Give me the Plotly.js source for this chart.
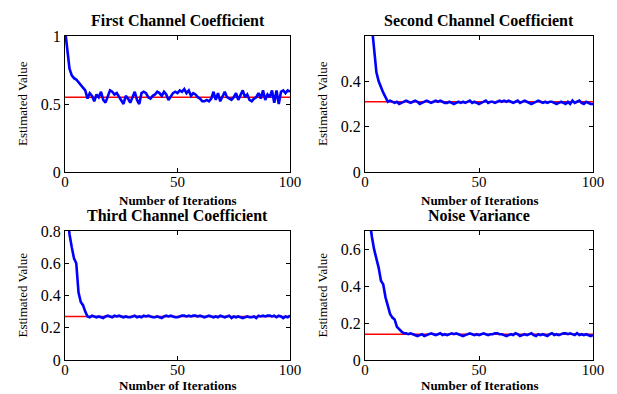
<!DOCTYPE html>
<html>
<head>
<meta charset="utf-8">
<script src="https://cdn.plot.ly/plotly-3.0.1.min.js"></script>
<style>html,body{margin:0;padding:0;background:#fff;}#chart{width:617px;height:394px;}</style>
</head>
<body>
<div id="chart"></div>
<script>
const iterations = Array.from({length: 101}, (_, i) => i);

const titles = ["First Channel Coefficient", "Second Channel Coefficient", "Third Channel Coefficient", "Noise Variance"];
const xLabel = "Number of Iterations";
const yLabel = "Estimated Value";

const trueValues = [0.55, 0.31, 0.27, 0.14];

const est1 = [1.05,0.88,0.76,0.71,0.69,0.68,0.66,0.64,0.62,0.60,0.54,0.58,0.56,0.52,0.57,0.55,0.59,0.53,0.51,0.56,
0.60,0.59,0.57,0.58,0.55,0.52,0.50,0.56,0.54,0.51,0.55,0.59,0.53,0.50,0.58,0.59,0.58,0.55,0.54,0.56,
0.57,0.59,0.58,0.56,0.59,0.57,0.53,0.56,0.58,0.59,0.58,0.60,0.59,0.61,0.58,0.60,0.56,0.58,0.57,0.55,
0.54,0.52,0.52,0.53,0.52,0.54,0.59,0.53,0.58,0.52,0.56,0.59,0.55,0.54,0.53,0.55,0.58,0.53,0.56,0.60,
0.55,0.57,0.53,0.52,0.54,0.55,0.58,0.54,0.60,0.53,0.57,0.55,0.60,0.51,0.60,0.50,0.59,0.60,0.58,0.60,0.59];

const est2 = [0.95,0.85,0.72,0.62,0.52,0.44,0.40,0.37,0.35,0.33,0.31,0.315,0.31,0.305,0.31,0.30,0.305,0.31,0.315,0.31,
0.305,0.31,0.315,0.31,0.30,0.305,0.31,0.315,0.31,0.305,0.31,0.315,0.31,0.315,0.31,0.305,0.305,0.31,0.305,0.30,
0.305,0.31,0.305,0.31,0.305,0.31,0.315,0.305,0.31,0.305,0.30,0.305,0.31,0.315,0.305,0.31,0.31,0.305,0.31,0.315,
0.31,0.315,0.31,0.315,0.31,0.305,0.31,0.315,0.305,0.31,0.315,0.31,0.305,0.30,0.305,0.31,0.315,0.31,0.305,0.31,
0.305,0.31,0.31,0.305,0.30,0.305,0.31,0.305,0.30,0.31,0.30,0.315,0.305,0.31,0.315,0.305,0.30,0.31,0.305,0.30,0.30];

const est3 = [1.10,0.92,0.78,0.70,0.63,0.60,0.42,0.36,0.34,0.30,0.27,0.265,0.275,0.27,0.265,0.27,0.265,0.26,0.27,0.275,
0.27,0.265,0.275,0.27,0.275,0.27,0.265,0.27,0.265,0.265,0.27,0.275,0.265,0.27,0.265,0.275,0.27,0.275,0.27,0.265,
0.265,0.27,0.265,0.26,0.27,0.275,0.27,0.275,0.27,0.265,0.265,0.27,0.275,0.275,0.27,0.275,0.27,0.275,0.275,0.27,
0.275,0.27,0.265,0.27,0.275,0.27,0.265,0.27,0.265,0.275,0.27,0.265,0.27,0.275,0.26,0.27,0.265,0.27,0.265,0.26,
0.265,0.27,0.265,0.265,0.27,0.26,0.275,0.27,0.275,0.27,0.275,0.275,0.27,0.275,0.265,0.275,0.27,0.26,0.27,0.265,0.275];

const est4 = [0.95,0.85,0.75,0.67,0.60,0.55,0.50,0.43,0.41,0.34,0.29,0.25,0.23,0.22,0.18,0.165,0.155,0.145,0.145,0.14,
0.145,0.14,0.135,0.13,0.135,0.14,0.13,0.135,0.14,0.145,0.14,0.135,0.14,0.145,0.135,0.14,0.135,0.14,0.145,0.14,
0.145,0.14,0.135,0.13,0.135,0.14,0.145,0.14,0.135,0.14,0.135,0.14,0.145,0.14,0.135,0.14,0.14,0.145,0.145,0.14,
0.14,0.135,0.13,0.135,0.14,0.135,0.145,0.14,0.13,0.135,0.14,0.135,0.14,0.145,0.135,0.13,0.14,0.135,0.14,0.135,
0.13,0.14,0.145,0.135,0.14,0.135,0.14,0.145,0.145,0.14,0.145,0.14,0.135,0.145,0.135,0.14,0.135,0.14,0.135,0.13,0.135];

const estimates = [est1, est2, est3, est4];
const yRanges = [[0, 1], [0, 0.6], [0, 0.8], [0, 0.7]];
const yTicks = [[0, 0.5, 1], [0, 0.2, 0.4], [0, 0.2, 0.4, 0.6, 0.8], [0, 0.2, 0.4, 0.6]];
const xTicks = [0, 50, 100];

const W = 617, H = 394;
const boxes = [ // pixel boxes [left, right, top, bottom]
  [65, 290, 36, 172],
  [365, 593, 36, 172],
  [65, 290, 231, 360],
  [365, 593, 231, 360]
];

const serif = "'Liberation Serif', 'Times New Roman', serif";
const traces = [];
const layout = {
  width: W, height: H,
  margin: {l: 0, r: 0, t: 0, b: 0},
  paper_bgcolor: "#fff", plot_bgcolor: "#fff",
  showlegend: false,
  font: {family: serif, color: "#000"},
  annotations: []
};

for (let k = 0; k < 4; k++) {
  const n = k + 1;
  const xa = n === 1 ? "x" : "x" + n;
  const ya = n === 1 ? "y" : "y" + n;
  const [l, r, t, b] = boxes[k];
  traces.push({
    x: [iterations[0], iterations[iterations.length - 1]],
    y: [trueValues[k], trueValues[k]],
    xaxis: xa, yaxis: ya, mode: "lines",
    line: {color: "#ff0000", width: 1.4}, hoverinfo: "skip"
  });
  traces.push({
    x: iterations, y: estimates[k],
    xaxis: xa, yaxis: ya, mode: "lines",
    line: {color: "#0000ff", width: 2.6}
  });
  const axCommon = {
    showgrid: false, zeroline: false, showline: true, linecolor: "#000", linewidth: 1,
    mirror: "ticks", ticks: "inside", ticklen: 4, tickcolor: "#000", tickwidth: 1,
    tickfont: {family: serif, size: 16, color: "#000"}, fixedrange: true
  };
  layout["xaxis" + (n === 1 ? "" : n)] = Object.assign({}, axCommon, {
    domain: [l / W, r / W], anchor: ya, range: [0, 100], tickvals: xTicks,
    ticktext: xTicks.map(String), ticklabelstandoff: -4,
    tickfont: {family: serif, size: 15, color: "#000"}
  });
  layout["yaxis" + (n === 1 ? "" : n)] = Object.assign({}, axCommon, {
    domain: [1 - b / H, 1 - t / H], anchor: xa, range: yRanges[k], tickvals: yTicks[k],
    ticktext: yTicks[k].map(String)
  });
  layout.annotations.push({
    text: "<b>" + titles[k] + "</b>", xref: "paper", yref: "paper",
    x: (l + r) / 2 / W, y: 1 - (t - 16) / H, xanchor: "center", yanchor: "middle",
    showarrow: false, font: {family: serif, size: 16, color: "#000"}
  });
  const bottomRow = k >= 2;
  layout.annotations.push({
    text: "<b>" + xLabel + "</b>", xref: "paper", yref: "paper",
    x: (l + r) / 2 / W,
    y: bottomRow ? 0 : 1 - (b + 28) / H,
    xanchor: "center", yanchor: bottomRow ? "bottom" : "middle", borderpad: 0,
    showarrow: false, font: {family: serif, size: 13, color: "#000"}
  });
  layout.annotations.push({
    text: yLabel, xref: "paper", yref: "paper", textangle: -90,
    x: (l - 43) / W, y: 1 - (t + b) / 2 / H, xanchor: "center", yanchor: "middle",
    showarrow: false, font: {family: serif, size: 13, color: "#000"}
  });
}

Plotly.newPlot("chart", traces, layout, {displayModeBar: false, staticPlot: true});
</script>
</body>
</html>
